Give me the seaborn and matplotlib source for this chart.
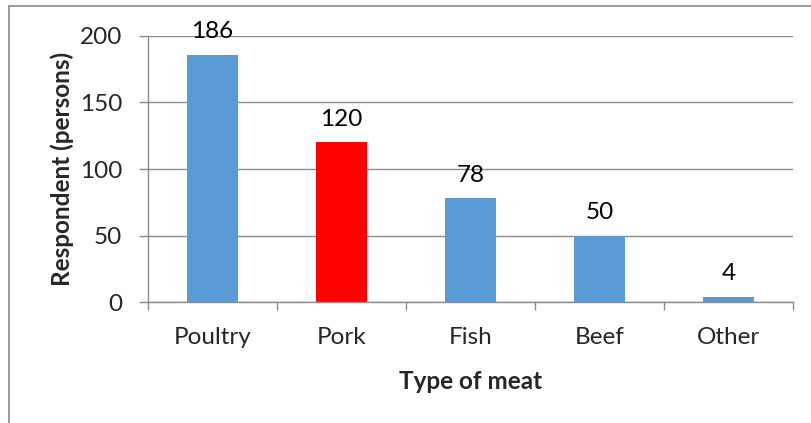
import matplotlib
matplotlib.use("Agg")
import matplotlib.pyplot as plt
import seaborn as sns
import pandas as pd
from matplotlib.patches import Rectangle

categories = ["Poultry", "Pork", "Fish", "Beef", "Other"]
values = [186, 120, 78, 50, 4]
bar_colors = ["#5B9BD5", "#FF0000", "#5B9BD5", "#5B9BD5", "#5B9BD5"]
y_ticks = [0, 50, 100, 150, 200]

sns.set_theme(style="white")
plt.rcParams["font.family"] = ["Lato", "DejaVu Sans"]

df = pd.DataFrame({"meat": categories, "count": values})

fig = plt.figure(figsize=(8.11, 4.23), dpi=100)
ax = fig.add_axes([148/811, 1 - 302/423, (793-148)/811, (302-36)/423])

sns.barplot(data=df, x="meat", y="count", hue="meat", palette=bar_colors,
            legend=False, width=0.4, ax=ax, saturation=1, linewidth=0)

ax.set_ylim(0, 200)
ax.set_xlim(-0.5, 4.5)
ax.set_yticks(y_ticks)
ax.set_yticklabels([str(t) for t in y_ticks], fontsize=17.5)
ax.yaxis.grid(True, color="#8c8c8c", linewidth=1)
ax.set_axisbelow(True)

for s in ["top", "right"]:
    ax.spines[s].set_visible(False)
for s in ["left", "bottom"]:
    ax.spines[s].set_color("#8c8c8c")
    ax.spines[s].set_linewidth(1)

ax.tick_params(axis="y", which="major", length=6.5, color="#8c8c8c", width=1,
               left=True, pad=12)
ax.tick_params(axis="x", which="major", length=0, pad=18, labelsize=17.5)
ax.set_xticks(range(len(categories)))
ax.set_xticklabels(categories)
ax.set_xticks([i - 0.5 for i in range(len(categories) + 1)], minor=True)
ax.tick_params(axis="x", which="minor", length=6, color="#8c8c8c", width=1,
               bottom=True)

for i, v in enumerate(values):
    ax.annotate(str(v), (i, v), xytext=(0, 9), textcoords="offset points",
                ha="center", va="bottom", fontsize=17.5, color="black")

ax.set_xlabel("Type of meat", fontsize=17.5, fontweight="bold", labelpad=16)
ax.set_ylabel("Respondent (persons)", fontsize=17.5, fontweight="bold", labelpad=4)

fig.patches.append(Rectangle((9/811, -0.1), 1.2, (1 - 6/423) + 0.1,
                             transform=fig.transFigure, fill=False,
                             edgecolor="#8c8c8c", linewidth=1.2))

fig.savefig("out.png", dpi=100)
